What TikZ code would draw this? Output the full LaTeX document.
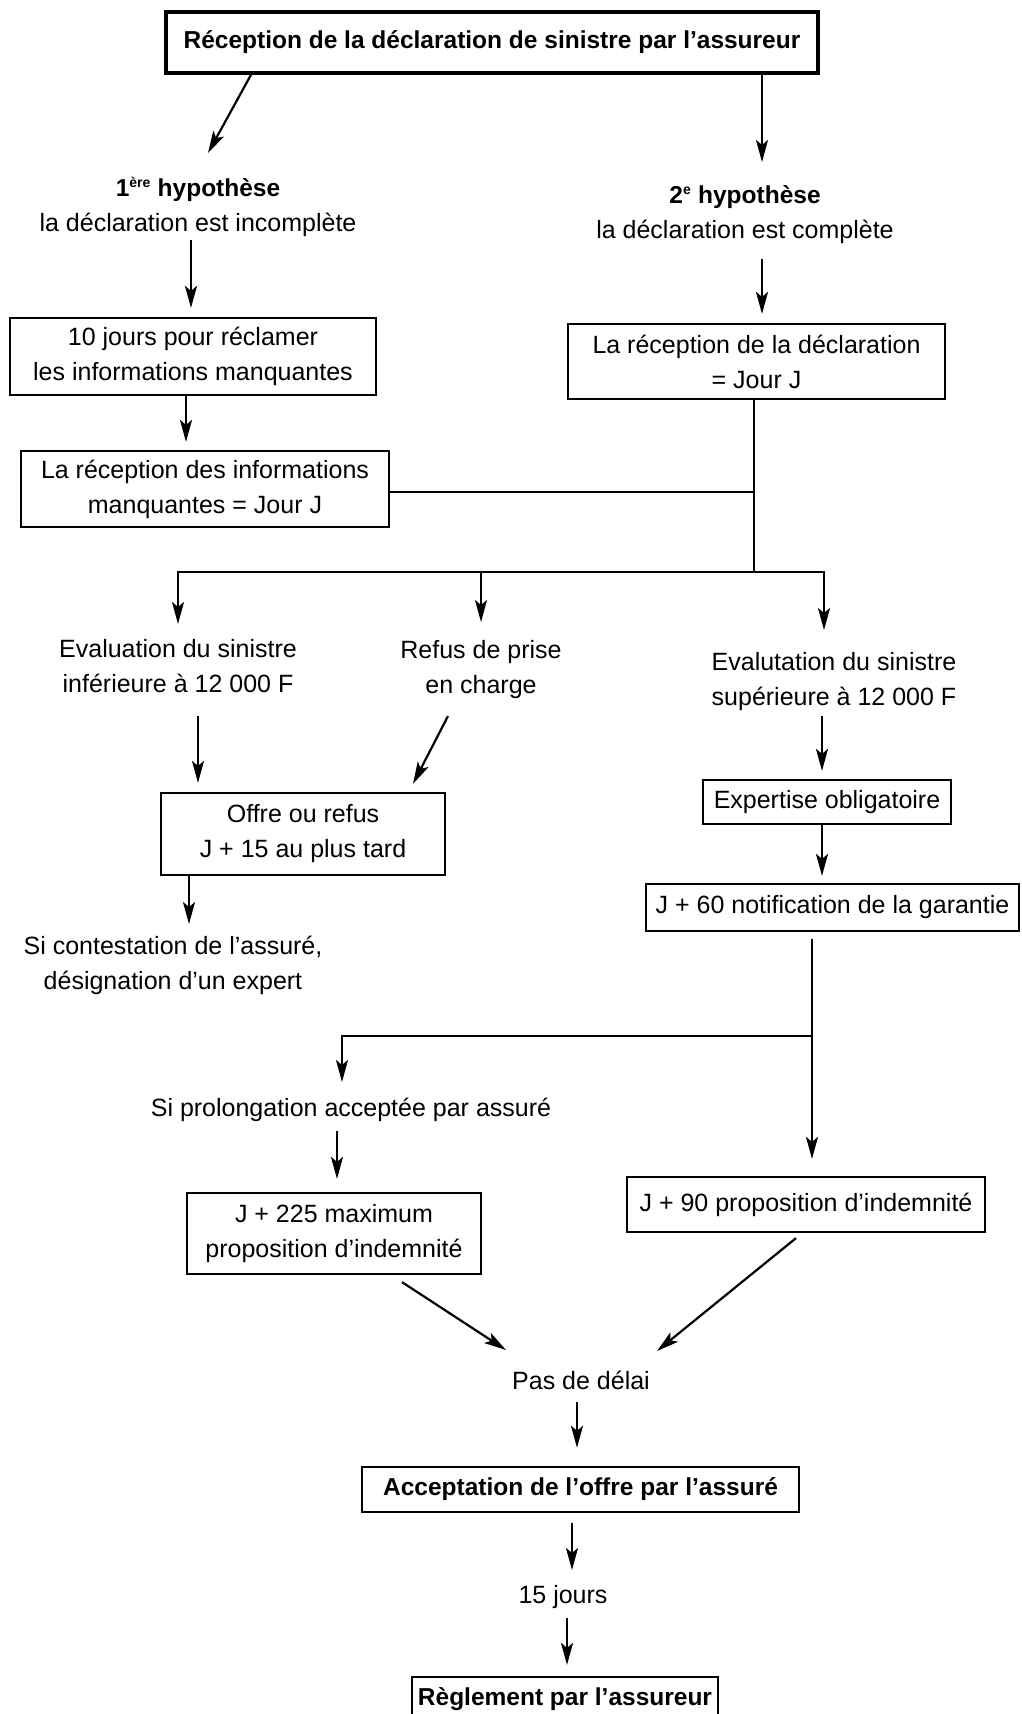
\documentclass[tikz,border=0pt]{standalone}
\usepackage{fontspec}
\setmainfont{Liberation Sans}
\usetikzlibrary{arrows.meta}
\newcommand\regf{\fontsize{25}{35}\selectfont}
\newcommand\boldf{\fontsize{24.5}{35}\selectfont\bfseries}
\begin{document}
\begin{tikzpicture}[x=1pt,y=-1pt,
  box/.style={draw, line width=2.2pt, inner sep=0pt, align=center, font=\regf},
  bbox/.style={box, font=\boldf},
  txt/.style={align=center, inner sep=0pt, font=\regf},
  ln/.style={line width=2.2pt, line cap=rect},
  arr/.style={line width=2.2pt, -{Stealth[length=22pt,width=12pt,inset=5pt]}}]
\useasboundingbox (0,0) rectangle (1021,1714);
\fill[white] (0,0) rectangle (1021,1714);

% nodes
\node[bbox, line width=3.5pt, minimum width=652pt, minimum height=61pt] (top) at (492,42.5)
  {Réception de la déclaration de sinistre par l'assureur};
\node[txt] (h1) at (198,207) {{\boldf 1\textsuperscript{\fontsize{14}{14}\selectfont ère} hypothèse}\\la déclaration est incomplète};
\node[txt] (h2) at (745,215) {{\boldf 2\textsuperscript{\fontsize{14}{14}\selectfont e} hypothèse}\\la déclaration est complète};
\node[box, minimum width=366pt, minimum height=77pt] (b10) at (193,356.5)
  {10 jours pour réclamer\\les informations manquantes};
\node[box, minimum width=377pt, minimum height=75pt] (bJ) at (756.5,361.5)
  {La réception de la déclaration\\= Jour J};
\node[box, minimum width=368pt, minimum height=76pt] (bInfo) at (205,489)
  {La réception des informations\\manquantes = Jour J};
\node[txt] (evalInf) at (178,666) {Evaluation du sinistre\\inférieure à 12 000 F};
\node[txt] (refus) at (481,670) {Refus de prise\\en charge};
\node[txt] (evalSup) at (834,682) {Evalutation du sinistre\\supérieure à 12 000 F};
\node[box, minimum width=284pt, minimum height=82pt] (offre) at (303,834)
  {Offre ou refus\\J + 15 au plus tard};
\node[txt] (contest) at (173,965) {Si contestation de l'assuré,\\désignation d'un expert};
\node[box, minimum width=248pt, minimum height=44pt] (expert) at (827,802) {Expertise obligatoire};
\node[box, minimum width=373pt, minimum height=47pt] (j60) at (832.5,907.5) {J + 60 notification de la garantie};
\node[txt] (prolong) at (351,1110) {Si prolongation acceptée par assuré};
\node[box, minimum width=294pt, minimum height=81pt] (j225) at (334,1233.5)
  {J + 225 maximum\\proposition d'indemnité};
\node[box, minimum width=358pt, minimum height=55pt] (j90) at (806,1204.5) {J + 90 proposition d'indemnité};
\node[txt] (pas) at (581,1380) {Pas de délai};
\node[bbox, line width=2.5pt, minimum width=437pt, minimum height=45pt] (accept) at (580.5,1489.5)
  {Acceptation de l'offre par l'assuré};
\node[txt] (quinze) at (563,1597) {15 jours};
\node[bbox, minimum width=306pt, minimum height=38pt, text depth=0pt] (regl) at (565,1696)
  {Règlement par l'assureur};

% junction coordinates
\coordinate (jm) at (754,492);
\coordinate (jn) at (754,572);
\coordinate (bl) at (178,572);
\coordinate (bm) at (481,572);
\coordinate (br) at (824,572);
\coordinate (jk) at (812,1036);
\coordinate (jl) at (342,1036);

% connectors
\draw[arr] ([shift={(-241,0)}]top.south) -- ([shift={(10,-54)}]h1.center);
\draw[arr] ([shift={(270,0)}]top.south) -- ([shift={(17,-53)}]h2.center);
\draw[arr] ([shift={(-7,33)}]h1.center) -- ([shift={(-2,-9)}]b10.north);
\draw[arr] ([shift={(17,44)}]h2.center) -- ([shift={(5.5,-9)}]bJ.north);
\draw[arr] ([shift={(-7,0)}]b10.south) -- ([shift={(-19,-8)}]bInfo.north);

\draw[ln] ([shift={(-2.5,0)}]bJ.south) -- (jn);
\draw[ln] ([shift={(0,3)}]bInfo.east) -- (jm);
\draw[ln] (bl) -- (br);
\draw[arr] (bl) -- ([shift={(0,-42)}]evalInf.center);
\draw[arr] (bm) -- ([shift={(0,-48)}]refus.center);
\draw[arr] (br) -- ([shift={(-10,-52)}]evalSup.center);

\draw[arr] ([shift={(20,50)}]evalInf.center) -- ([shift={(-105,-9)}]offre.north);
\draw[arr] ([shift={(-33,46)}]refus.center) -- ([shift={(110,-8)}]offre.north);
\draw[arr] ([shift={(-114,0)}]offre.south) -- ([shift={(16,-41)}]contest.center);

\draw[arr] ([shift={(-12,34)}]evalSup.center) -- ([shift={(-5,-8)}]expert.north);
\draw[arr] ([shift={(-5,0)}]expert.south) -- ([shift={(-10.5,-7)}]j60.north);

\draw[ln] ([shift={(-20.5,8)}]j60.south) -- (jk);
\draw[arr] (jk) -- ([shift={(6,-17)}]j90.north);
\draw[ln] (jk) -- (jl);
\draw[arr] (jl) -- ([shift={(-9,-28)}]prolong.center);
\draw[arr] ([shift={(-14,21)}]prolong.center) -- ([shift={(3,-13)}]j225.north);

\draw[arr] ([shift={(68,7)}]j225.south) -- ([shift={(-75,-30)}]pas.center);
\draw[arr] ([shift={(-10,5)}]j90.south) -- ([shift={(76,-29)}]pas.center);
\draw[arr] ([shift={(-4,22)}]pas.center) -- ([shift={(-3.5,-18)}]accept.north);
\draw[arr] ([shift={(-8.5,10)}]accept.south) -- ([shift={(9,-27)}]quinze.center);
\draw[arr] ([shift={(4,21)}]quinze.center) -- ([shift={(2,-11)}]regl.north);
\end{tikzpicture}
\end{document}
